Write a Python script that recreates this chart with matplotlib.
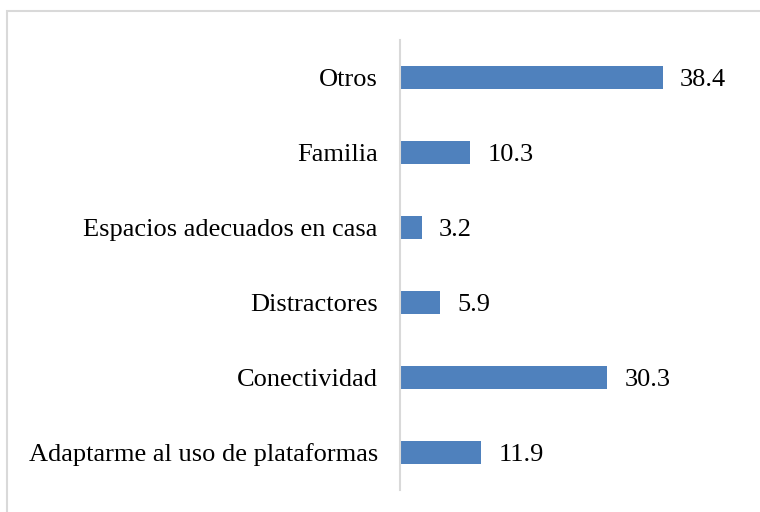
import matplotlib.pyplot as plt
from matplotlib.patches import Rectangle

# categories from bottom to top
categorias = ['Adaptarme al uso de plataformas', 'Conectividad', 'Distractores',
              'Espacios adecuados en casa', 'Familia', 'Otros']
valores = [11.9, 30.3, 5.9, 3.2, 10.3, 38.4]

plt.rcParams['font.family'] = ['Liberation Serif', 'DejaVu Serif']

fig = plt.figure(figsize=(7.6, 5.12), dpi=100)
# light grey frame around the chart area
fig.patches.append(Rectangle((7/760, -0.01), 1.0, 1 - 11/512 + 0.01, transform=fig.transFigure,
                             fill=False, edgecolor='#d9d9d9', linewidth=1.5))

ax = fig.add_axes([400/760, 22/512, 342/760, 450/512])
y = range(len(categorias))
ax.barh(y, valores, height=0.31, color='#4F81BD')

for i, v in enumerate(valores):
    ax.text(v + 17/6.85, i, '%.1f' % v, va='center_baseline', ha='left', fontsize=19)

ax.set_xlim(0, 50)
ax.set_ylim(-0.5, 5.5)
ax.set_yticks(list(y))
ax.set_yticklabels(categorias, fontsize=19, va='center_baseline')
ax.tick_params(axis='y', length=0, pad=16)
ax.set_xticks([])
for s in ['top', 'right', 'bottom']:
    ax.spines[s].set_visible(False)
ax.spines['left'].set_color('#d9d9d9')
ax.spines['left'].set_linewidth(1.5)

plt.savefig('out.png', dpi=100)
